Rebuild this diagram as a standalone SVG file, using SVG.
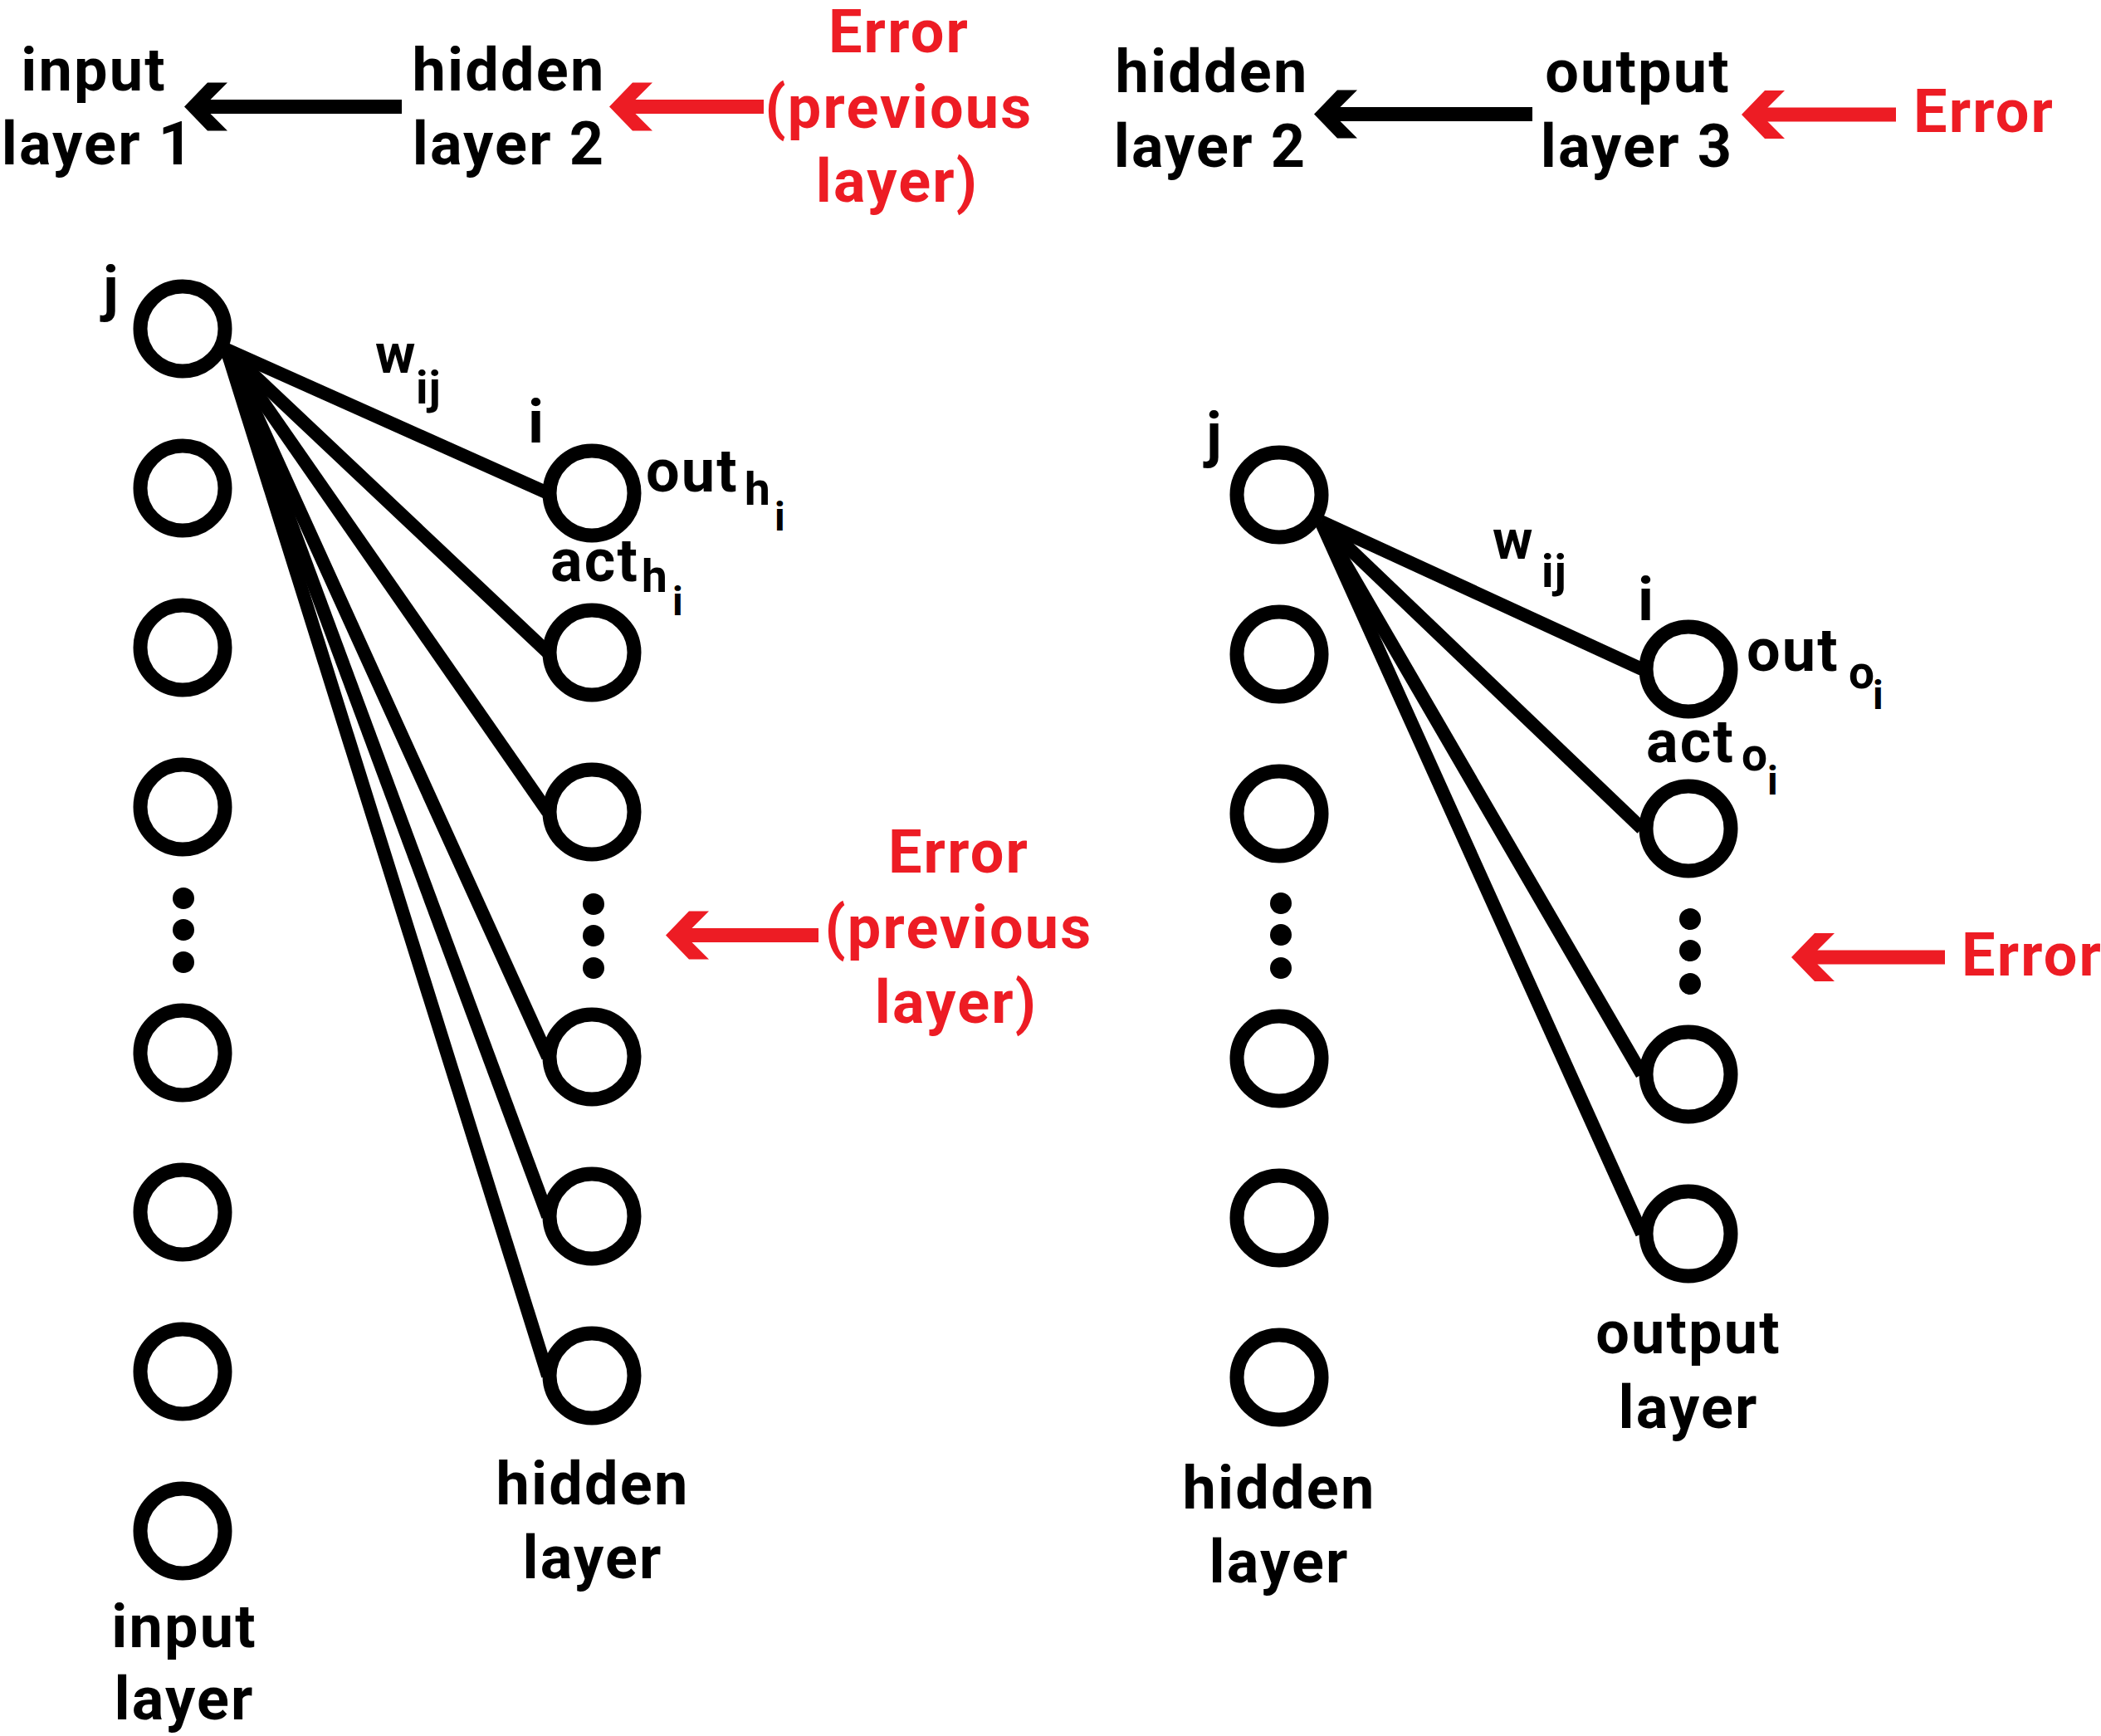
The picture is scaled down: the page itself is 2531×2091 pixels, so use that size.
<svg xmlns="http://www.w3.org/2000/svg" xmlns:xlink="http://www.w3.org/1999/xlink" width="2531" height="2091" viewBox="0 0 2531 2091">
<style>
.t{font-family:Roboto,"Liberation Sans",sans-serif;font-weight:700;font-size:72px;letter-spacing:2.2px;fill:#000}
.m{text-anchor:middle}
.r{fill:#ED1C24}
.s{font-size:55px;letter-spacing:1px}
.ss{font-size:48px;letter-spacing:0}
.w{font-size:66px}
.n{fill:#fff;stroke:#000;stroke-width:17}
.d{fill:#000}
.e{stroke:#000;stroke-width:16;fill:none}
.ak{stroke:#000;stroke-width:17}
.ar{stroke:#ED1C24;stroke-width:17}
</style>
<defs>
<path id="head" d="M0,0 L28,-29 L52,-29 L31.5,-8.5 L31.5,8.5 L52,29 L28,29 Z"/>
</defs>
<rect width="2531" height="2091" fill="#fff"/>

<g id="connectors">
  <line class="e" x1="273" y1="421" x2="660" y2="594"/>
  <line class="e" x1="273" y1="421" x2="660" y2="786"/>
  <line class="e" x1="273" y1="421" x2="660" y2="978"/>
  <line class="e" x1="273" y1="421" x2="660" y2="1273"/>
  <line class="e" x1="273" y1="421" x2="660" y2="1465"/>
  <line class="e" x1="273" y1="421" x2="660" y2="1657"/>
  <line class="e" x1="1591" y1="628" x2="1978" y2="806"/>
  <line class="e" x1="1591" y1="628" x2="1978" y2="998"/>
  <line class="e" x1="1591" y1="628" x2="1978" y2="1294"/>
  <line class="e" x1="1591" y1="628" x2="1978" y2="1486"/>
  <g id="arrow-top-left-black">
    <line class="ak" x1="250" y1="128.5" x2="484" y2="128.5"/>
    <use xlink:href="#head" href="#head" x="222" y="128.5" fill="#000"/>
  </g>
  <g id="arrow-top-left-red">
    <line class="ar" x1="762" y1="128.5" x2="920" y2="128.5"/>
    <use xlink:href="#head" href="#head" x="734" y="128.5" fill="#ED1C24"/>
  </g>
  <g id="arrow-top-right-black">
    <line class="ak" x1="1611" y1="137.5" x2="1846" y2="137.5"/>
    <use xlink:href="#head" href="#head" x="1583" y="137.5" fill="#000"/>
  </g>
  <g id="arrow-top-right-red">
    <line class="ar" x1="2126" y1="138" x2="2284" y2="138"/>
    <use xlink:href="#head" href="#head" x="2098" y="138" fill="#ED1C24"/>
  </g>
  <g id="arrow-mid-left-red">
    <line class="ar" x1="830" y1="1126.5" x2="986" y2="1126.5"/>
    <use xlink:href="#head" href="#head" x="802" y="1126.5" fill="#ED1C24"/>
  </g>
  <g id="arrow-mid-right-red">
    <line class="ar" x1="2186" y1="1153" x2="2343" y2="1153"/>
    <use xlink:href="#head" href="#head" x="2158" y="1153" fill="#ED1C24"/>
  </g>
</g>

<g id="input-layer">
  <g id="in1"><circle class="n" cx="220" cy="396" r="51"/></g>
  <g id="in2"><circle class="n" cx="220" cy="588" r="51"/></g>
  <g id="in3"><circle class="n" cx="220" cy="780" r="51"/></g>
  <g id="in4"><circle class="n" cx="220" cy="972" r="51"/></g>
  <g id="in-dots"><circle class="d" cx="221" cy="1082" r="13"/><circle class="d" cx="221" cy="1120" r="13"/><circle class="d" cx="221" cy="1159" r="13"/></g>
  <g id="in5"><circle class="n" cx="220" cy="1268" r="51"/></g>
  <g id="in6"><circle class="n" cx="220" cy="1460" r="51"/></g>
  <g id="in7"><circle class="n" cx="220" cy="1652" r="51"/></g>
  <g id="in8"><circle class="n" cx="220" cy="1844" r="51"/></g>
</g>

<g id="hidden-layer-left">
  <g id="h1"><circle class="n" cx="713" cy="594" r="51"/></g>
  <g id="h2"><circle class="n" cx="713" cy="786" r="51"/></g>
  <g id="h3"><circle class="n" cx="713" cy="978" r="51"/></g>
  <g id="h-dots"><circle class="d" cx="715" cy="1089" r="13"/><circle class="d" cx="715" cy="1127" r="13"/><circle class="d" cx="715" cy="1166" r="13"/></g>
  <g id="h4"><circle class="n" cx="713" cy="1273" r="51"/></g>
  <g id="h5"><circle class="n" cx="713" cy="1465" r="51"/></g>
  <g id="h6"><circle class="n" cx="713" cy="1657" r="51"/></g>
</g>

<g id="hidden-layer-right">
  <g id="hr1"><circle class="n" cx="1541" cy="596" r="51"/></g>
  <g id="hr2"><circle class="n" cx="1541" cy="788" r="51"/></g>
  <g id="hr3"><circle class="n" cx="1541" cy="980" r="51"/></g>
  <g id="hr-dots"><circle class="d" cx="1543" cy="1088" r="13"/><circle class="d" cx="1543" cy="1126" r="13"/><circle class="d" cx="1543" cy="1166" r="13"/></g>
  <g id="hr4"><circle class="n" cx="1541" cy="1275" r="51"/></g>
  <g id="hr5"><circle class="n" cx="1541" cy="1467" r="51"/></g>
  <g id="hr6"><circle class="n" cx="1541" cy="1659" r="51"/></g>
</g>

<g id="output-layer">
  <g id="o1"><circle class="n" cx="2034" cy="806" r="51"/></g>
  <g id="o2"><circle class="n" cx="2034" cy="998" r="51"/></g>
  <g id="o-dots"><circle class="d" cx="2036" cy="1107" r="13"/><circle class="d" cx="2036" cy="1145" r="13"/><circle class="d" cx="2036" cy="1185" r="13"/></g>
  <g id="o3"><circle class="n" cx="2034" cy="1294" r="51"/></g>
  <g id="o4"><circle class="n" cx="2034" cy="1486" r="51"/></g>
</g>

<g id="labels-top">
  <text class="t m" x="113" y="109">input</text>
  <text class="t m" x="118" y="198">layer 1</text>
  <text class="t m" x="613" y="109">hidden</text>
  <text class="t m" x="613" y="198">layer 2</text>
  <text class="t m r" x="1083" y="63">Error</text>
  <text class="t m r" x="1083" y="154">(previous</text>
  <text class="t m r" x="1081" y="243">layer)</text>
  <text class="t m" x="1460" y="111">hidden</text>
  <text class="t m" x="1458" y="201">layer 2</text>
  <text class="t m" x="1973" y="111">output</text>
  <text class="t m" x="1972" y="201">layer 3</text>
  <text class="t r" x="2305" y="159">Error</text>
</g>

<g id="labels-left">
  <text class="t" x="124" y="372">j</text>
  <text class="t w" x="452" y="449">w</text>
  <text class="t s" x="501" y="486">ij</text>
  <text class="t" x="636" y="533">i</text>
  <text class="t" x="778" y="592">out</text>
  <text class="t s" x="897" y="608">h</text>
  <text class="t ss" x="933" y="639">i</text>
  <text class="t" x="663" y="700">act</text>
  <text class="t s" x="773" y="713">h</text>
  <text class="t ss" x="810" y="741">i</text>
  <text class="t m r" x="1155" y="1051">Error</text>
  <text class="t m r" x="1155" y="1142">(previous</text>
  <text class="t m r" x="1152" y="1232">layer)</text>
  <text class="t m" x="714" y="1812">hidden</text>
  <text class="t m" x="714" y="1901">layer</text>
  <text class="t m" x="222" y="1984">input</text>
  <text class="t m" x="222" y="2071">layer</text>
</g>

<g id="labels-right">
  <text class="t" x="1453" y="548">j</text>
  <text class="t w" x="1798" y="673">w</text>
  <text class="t s" x="1857" y="707">ij</text>
  <text class="t" x="1973" y="747">i</text>
  <text class="t" x="2104" y="808">out</text>
  <text class="t s" x="2227" y="829">o</text>
  <text class="t ss" x="2256" y="854">i</text>
  <text class="t" x="1983" y="918">act</text>
  <text class="t s" x="2098" y="928">o</text>
  <text class="t ss" x="2129" y="957">i</text>
  <text class="t r" x="2363" y="1175">Error</text>
  <text class="t m" x="2034" y="1630">output</text>
  <text class="t m" x="2034" y="1720">layer</text>
  <text class="t m" x="1541" y="1817">hidden</text>
  <text class="t m" x="1541" y="1906">layer</text>
</g>
</svg>
